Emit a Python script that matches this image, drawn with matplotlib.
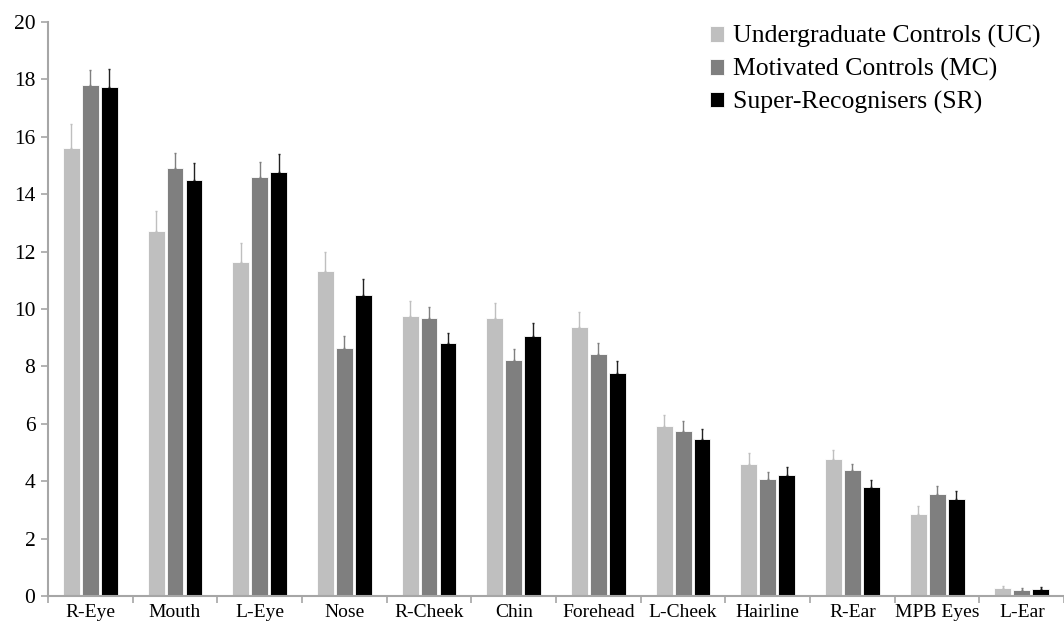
import matplotlib
matplotlib.use("Agg")
import matplotlib.pyplot as plt
import numpy as np

plt.rcParams['font.family'] = ['Liberation Serif', 'DejaVu Serif']

categories = ["R-Eye", "Mouth", "L-Eye", "Nose", "R-Cheek", "Chin", "Forehead",
              "L-Cheek", "Hairline", "R-Ear", "MPB Eyes", "L-Ear"]

series_names = ["Undergraduate Controls (UC)", "Motivated Controls (MC)",
                "Super-Recognisers (SR)"]

uc_mean = [15.62, 12.71, 11.63, 11.34, 9.77, 9.69, 9.37, 5.91, 4.60, 4.77, 2.86, 0.27]
mc_mean = [17.80, 14.90, 14.59, 8.64, 9.67, 8.24, 8.44, 5.76, 4.07, 4.39, 3.54, 0.22]
sr_mean = [17.75, 14.49, 14.79, 10.50, 8.80, 9.07, 7.77, 5.48, 4.22, 3.79, 3.37, 0.23]

uc_err = [0.83, 0.70, 0.66, 0.66, 0.51, 0.51, 0.51, 0.39, 0.37, 0.31, 0.29, 0.08]
mc_err = [0.53, 0.52, 0.52, 0.43, 0.39, 0.37, 0.36, 0.33, 0.24, 0.21, 0.29, 0.05]
sr_err = [0.63, 0.59, 0.60, 0.56, 0.36, 0.44, 0.41, 0.33, 0.26, 0.24, 0.29, 0.07]

colors = ["#bfbfbf", "#7f7f7f", "#000000"]
err_colors = ["#bfbfbf", "#7f7f7f", "#222222"]

fig = plt.figure(figsize=(10.64, 6.29), dpi=100)
ax = fig.add_axes([0.0451, 0.0525, 0.955, 0.9125])

x = np.arange(len(categories))
pitch = 0.224
width = 0.20
means = [uc_mean, mc_mean, sr_mean]
errs = [uc_err, mc_err, sr_err]
for i in range(3):
    pos = x + (i - 1) * pitch
    ax.bar(pos, means[i], width=width, color=colors[i], edgecolor="white",
           linewidth=0.6, label=series_names[i], zorder=2)
    ax.errorbar(pos, means[i], yerr=[np.zeros(len(x)), errs[i]], fmt="none",
                ecolor=err_colors[i], elinewidth=1.0, capsize=1.0, capthick=1.0,
                zorder=3)

ax.set_ylim(0, 20)
ax.set_yticks(np.arange(0, 21, 2))
ax.set_xlim(-0.5, len(categories) - 0.5)
ax.set_xticks(x)
ax.set_xticklabels(categories)
ax.set_xticks(np.arange(-0.5, len(categories), 1.0), minor=True)
ax.tick_params(axis="x", which="major", length=0, pad=6, labelsize=14)
ax.tick_params(axis="x", which="minor", length=5, color="#a6a6a6", width=1.2)
ax.tick_params(axis="y", length=5, color="#a6a6a6", width=1.2, labelsize=15.5, pad=4)

for s in ["top", "right"]:
    ax.spines[s].set_visible(False)
for s in ["left", "bottom"]:
    ax.spines[s].set_color("#a6a6a6")
    ax.spines[s].set_linewidth(1.5)

leg = ax.legend(loc="upper right", bbox_to_anchor=(0.987, 1.012), frameon=False,
                fontsize=18.5, handlelength=0.55, handleheight=0.55,
                handletextpad=0.35, labelspacing=0.38, borderaxespad=0.0)

fig.savefig("out.png", dpi=100, facecolor="white")
